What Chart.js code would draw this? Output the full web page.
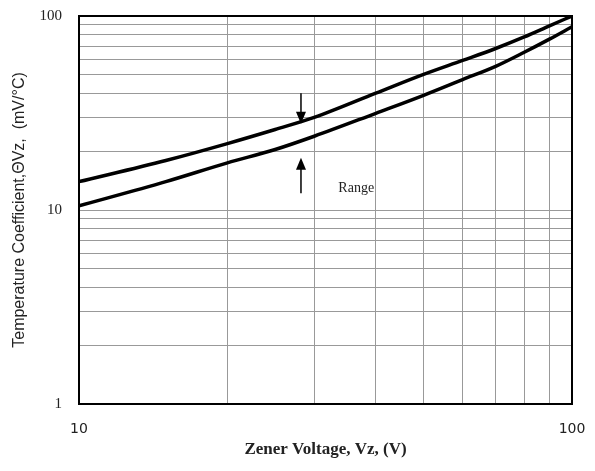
<!DOCTYPE html>
<html lang="en">
<head>
    <meta charset="UTF-8" />
    <title>Zener Temperature Coefficient</title>
    <script src="https://cdn.jsdelivr.net/npm/chart.js"></script>
    <style>
        html, body { margin: 0; padding: 0; background: #fff; }
        #wrap { width: 595px; height: 471px; }
    </style>
</head>
<body>
    <div id="wrap"><canvas id="tcChart" width="595" height="471"></canvas></div>

    <script>
        // Zener voltage (V) and the upper / lower bound of the temperature coefficient (mV/°C)
        const voltages = [10, 15, 20, 25, 30, 40, 50, 60, 70, 80, 90, 100];
        const upperTc = [14, 18, 22, 26, 30, 40, 50, 59, 68, 78, 89, 100];
        const lowerTc = [10.5, 14, 17.5, 20.5, 24, 31.5, 39, 47, 55, 65, 76, 88];

        // axis ticks (gridlines) and which of them carry a label
        const xGrid = [10, 20, 30, 40, 50, 60, 70, 80, 90, 100];
        const yGrid = [1, 2, 3, 4, 5, 6, 7, 8, 9, 10, 20, 30, 40, 50, 60, 70, 80, 90, 100];
        const xLabels = [10, 100];
        const yLabels = [1, 10, 100];

        // "Range" marker: two arrows at this voltage, in data units
        const rangeX = 28.2;
        const downArrow = [40, 27.8];   // from, to
        const upArrow = [12.2, 18.6];   // from, to
        const rangeText = { x: 36.5, y: 13, text: 'Range' };

        const overlay = {
            id: 'overlay',
            afterDatasetsDraw(chart) {
                const { ctx, chartArea: a, scales: { x, y } } = chart;
                ctx.save();
                // plot frame
                ctx.strokeStyle = '#000';
                ctx.lineWidth = 2;
                ctx.strokeRect(a.left, a.top, a.right - a.left, a.bottom - a.top);

                // arrows
                const drawArrow = (from, to) => {
                    const px = x.getPixelForValue(rangeX);
                    const y0 = y.getPixelForValue(from);
                    const y1 = y.getPixelForValue(to);
                    const dir = y1 > y0 ? 1 : -1;
                    ctx.lineWidth = 1.5;
                    ctx.beginPath();
                    ctx.moveTo(px, y0);
                    ctx.lineTo(px, y1 - dir * 10);
                    ctx.stroke();
                    ctx.beginPath();
                    ctx.moveTo(px, y1);
                    ctx.lineTo(px - 5, y1 - dir * 12);
                    ctx.lineTo(px + 5, y1 - dir * 12);
                    ctx.closePath();
                    ctx.fillStyle = '#000';
                    ctx.fill();
                };
                drawArrow(downArrow[0], downArrow[1]);
                drawArrow(upArrow[0], upArrow[1]);

                ctx.fillStyle = '#222';
                ctx.font = '14px "Liberation Serif", serif';
                ctx.textAlign = 'center';
                ctx.textBaseline = 'middle';
                ctx.fillText(rangeText.text, x.getPixelForValue(rangeText.x), y.getPixelForValue(rangeText.y));
                ctx.restore();
            }
        };

        const lineStyle = {
            borderColor: '#000',
            borderWidth: 3.5,
            pointRadius: 0,
            fill: false,
            cubicInterpolationMode: 'monotone'
        };

        new Chart(document.getElementById('tcChart'), {
            type: 'line',
            data: {
                datasets: [
                    { ...lineStyle, label: 'Upper', data: voltages.map((v, i) => ({ x: v, y: upperTc[i] })) },
                    { ...lineStyle, label: 'Lower', data: voltages.map((v, i) => ({ x: v, y: lowerTc[i] })) }
                ]
            },
            options: {
                responsive: false,
                animation: false,
                layout: { padding: { top: 16, right: 23, left: 0, bottom: 7 } },
                plugins: { legend: { display: false }, tooltip: { enabled: false } },
                scales: {
                    x: {
                        type: 'logarithmic',
                        min: 10,
                        max: 100,
                        afterBuildTicks: s => { s.ticks = xGrid.map(v => ({ value: v })); },
                        afterFit: s => { s.height = 60; s.paddingLeft = 0; s.paddingRight = 0; },
                        grid: { color: '#999', lineWidth: 1, drawTicks: false },
                        border: { display: false },
                        ticks: {
                            autoSkip: false,
                            maxRotation: 0,
                            padding: 17,
                            color: '#222',
                            font: { family: '"DejaVu Sans", sans-serif', size: 14 },
                            callback: v => xLabels.includes(v) ? String(v) : ''
                        },
                        title: {
                            display: true,
                            text: 'Zener Voltage, Vz, (V)',
                            color: '#222',
                            font: { family: '"Liberation Serif", serif', size: 17, weight: 'bold' },
                            padding: { top: 0 }
                        }
                    },
                    y: {
                        type: 'logarithmic',
                        min: 1,
                        max: 100,
                        afterBuildTicks: s => { s.ticks = yGrid.map(v => ({ value: v })); },
                        afterFit: s => { s.width = 79; s.paddingTop = 0; s.paddingBottom = 0; },
                        grid: { color: '#999', lineWidth: 1, drawTicks: false },
                        border: { display: false },
                        ticks: {
                            autoSkip: false,
                            padding: 17,
                            color: '#222',
                            font: { family: '"Liberation Serif", serif', size: 15 },
                            callback: v => yLabels.includes(v) ? String(v) : ''
                        },
                        title: {
                            display: true,
                            text: 'Temperature Coefficient,ΘVz,  (mV/°C)',
                            color: '#222',
                            font: { family: '"Liberation Sans", sans-serif', size: 16 },
                            padding: { top: 10, bottom: 4 }
                        }
                    }
                }
            },
            plugins: [overlay]
        });
    </script>
</body>
</html>
